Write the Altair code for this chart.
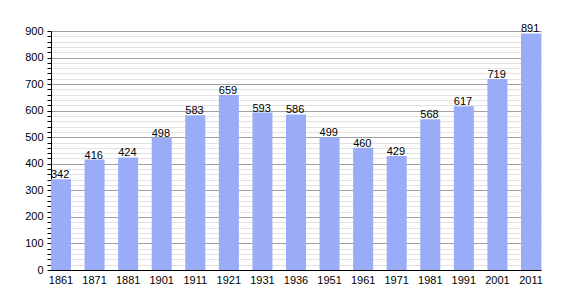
import altair as alt
import pandas as pd

years = ["1861", "1871", "1881", "1901", "1911", "1921", "1931", "1936",
         "1951", "1961", "1971", "1981", "1991", "2001", "2011"]
population = [342, 416, 424, 498, 583, 659, 593, 586, 499, 460, 429, 568, 617, 719, 891]
y_ticks = list(range(0, 901, 20))

df = pd.DataFrame({"year": years, "pop": population})

FONT = "Liberation Sans"

x_scale = alt.Scale(paddingInner=0.404, paddingOuter=0)
y_scale = alt.Scale(domain=[0, 900], nice=False)

x_axis = alt.Axis(title=None, labelAngle=0, ticks=False, domainColor="#000",
                  labelColor="#000", labelFont=FONT, labelFontSize=11,
                  labelPadding=4, grid=False)
y_axis = alt.Axis(title=None, values=y_ticks,
                  labelExpr="datum.value % 100 == 0 ? datum.label : ''",
                  labelOverlap=False, labelFlush=False,
                  grid=True,
                  gridColor=alt.condition("datum.value % 100 == 0",
                                          alt.value("#a0a0a0"), alt.value("#e2e2e2")),
                  domainColor="#000", tickColor="#000", tickSize=4,
                  labelColor="#000", labelFont=FONT, labelFontSize=11,
                  labelPadding=4)

bars = alt.Chart(df).mark_bar(color="#9aabf8").encode(
    x=alt.X("year:N", sort=years, scale=x_scale, axis=x_axis),
    y=alt.Y("pop:Q", scale=y_scale, axis=y_axis),
)

labels = alt.Chart(df).mark_text(align="left", baseline="bottom", dy=1,
                                 font=FONT, fontSize=11, color="#000").encode(
    x=alt.X("year:N", sort=years, scale=x_scale, bandPosition=0, axis=x_axis),
    y=alt.Y("pop:Q", scale=y_scale, axis=y_axis),
    text="pop:Q",
)

chart = alt.layer(bars, labels).properties(
    width=490, height=239,
    autosize=alt.AutoSizeParams(type="none"),
    padding={"left": 51, "top": 31, "right": 29, "bottom": 30},
).configure_view(stroke=None).configure(background="white")

chart.save("out.html", embed_options={"renderer": "svg", "actions": False})
